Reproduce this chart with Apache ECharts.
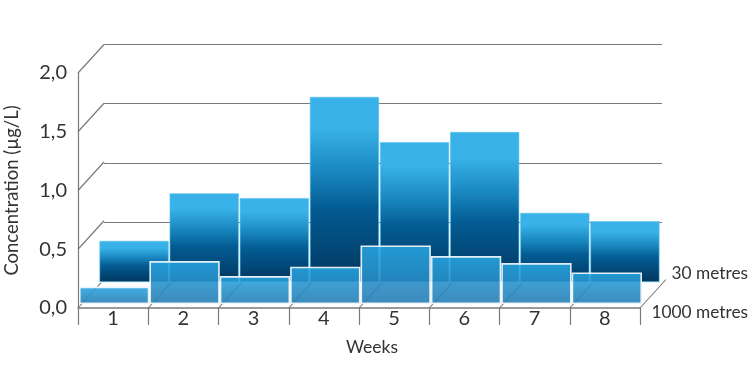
<!DOCTYPE html>
<html><head><meta charset="utf-8">
<style>html,body{margin:0;padding:0;background:#fff}#c{width:753px;height:380px}</style>
<script src="https://cdn.jsdelivr.net/npm/echarts@6/dist/echarts.min.js"></script></head>
<body><div id="c"></div>
<script>
const categories = ['1','2','3','4','5','6','7','8'];
const metres30 = [0.345,0.745,0.705,1.555,1.175,1.26,0.58,0.51];
const metres1000 = [0.148,0.365,0.238,0.318,0.498,0.408,0.348,0.268];
const wallTicks = [0.5,1.0,1.5,2.0];
const seriesNames = ['30 metres','1000 metres'];
const FONT = 'Lato';
const TXT = '#333';
const LINE = '#7a7a7a';
const DX = 26, DY = -28.5;

function grad(stops){
  return {type:'linear',x:0,y:0,x2:0,y2:1,colorStops:stops.map(s=>({offset:s[0],color:s[1]}))};
}
const chart = echarts.init(document.getElementById('c'),null,{renderer:'canvas'});
chart.setOption({
  animation:false,
  backgroundColor:'#fff',
  textStyle:{fontFamily:FONT},
  grid:[
    {left:78,width:562,top:73,height:235,outerBoundsMode:'none'},
    {left:104,width:558,top:44,height:238,outerBoundsMode:'none'},
    {left:99,width:561,top:44,height:238,outerBoundsMode:'none'},
    {left:79,width:563,top:69,height:235,outerBoundsMode:'none'}
  ],
  xAxis:[
    {gridIndex:0,type:'category',data:categories,
     axisLine:{lineStyle:{color:LINE,width:1.5}},
     axisTick:{show:true,length:17,lineStyle:{color:LINE,width:1.2}},
     axisLabel:{fontSize:20,color:TXT,margin:1,fontFamily:FONT},
     name:'Weeks',nameLocation:'middle',nameGap:30,
     nameTextStyle:{fontSize:17.5,color:TXT,fontFamily:FONT,padding:[0,0,0,26]}},
    {gridIndex:1,type:'category',data:categories,show:false},
    {gridIndex:2,type:'category',data:categories,show:false},
    {gridIndex:3,type:'category',data:categories,show:false}
  ],
  yAxis:[
    {gridIndex:0,type:'value',min:0,max:2,interval:0.5,
     axisLine:{show:true,lineStyle:{color:LINE,width:1.2}},axisTick:{show:false},
     splitLine:{show:false},
     axisLabel:{fontSize:20,color:TXT,margin:11,fontFamily:FONT,formatter:v=>v.toFixed(1).replace('.',',')},
     name:'Concentration (µg/L)',nameLocation:'middle',nameGap:56,
     nameTextStyle:{fontSize:18.5,color:TXT,fontFamily:FONT}},
    {gridIndex:1,type:'value',min:0,max:2,interval:0.5,
     axisLine:{show:false},axisTick:{show:false},axisLabel:{show:false},
     splitLine:{show:true,showMinLine:false,lineStyle:{color:LINE,width:1.2}}},
    {gridIndex:2,type:'value',min:0,max:2,show:false,splitLine:{show:false}},
    {gridIndex:3,type:'value',min:0,max:2,show:false,splitLine:{show:false}}
  ],
  series:[
    {type:'custom',name:'wall diagonals',xAxisIndex:0,yAxisIndex:0,z:1,silent:true,
     encode:{x:0,y:1},
     data:wallTicks.map(v=>[categories[0],v]),
     renderItem:(p,api)=>{
       const c=api.coord([api.value(0),api.value(1)]), w=api.size([1,0])[0], x=c[0]-w/2;
       return {type:'line',shape:{x1:x,y1:c[1],x2:x+DX,y2:c[1]+DY},
               style:{stroke:LINE,lineWidth:1.2,fill:null}};
     }},
    {type:'bar',name:seriesNames[0],xAxisIndex:2,yAxisIndex:2,data:metres30,barCategoryGap:'1.5%',z:3,
     itemStyle:{color:grad([[0,'#38b2e8'],[0.17,'#38b2e8'],[0.4,'#1a88c0'],[0.6,'#035c93'],[1,'#01365f']]),
                borderColor:'#5cc3ee',borderWidth:0.6}},
    {type:'custom',name:'floor diagonals',xAxisIndex:0,yAxisIndex:0,z:4,silent:true,
     encode:{x:0},
     data:categories.map((c,i)=>[i]).concat([[8]]),
     renderItem:(p,api)=>{
       const i=api.value(0), base=api.coord([0,0]), w=api.size([1,0])[0];
       const x=base[0]-w/2+i*w, k=i===8?1:0.88;
       return {type:'line',shape:{x1:x,y1:base[1],x2:x+DX*k,y2:base[1]+DY*k},
               style:{stroke:LINE,lineWidth:1.1,fill:null}};
     }},
    {type:'bar',name:seriesNames[1],xAxisIndex:3,yAxisIndex:3,data:metres1000,barCategoryGap:'0%',z:5,
     itemStyle:{color:grad([[0,'rgba(38,165,225,0.88)'],[1,'rgba(40,125,180,0.9)']]),
                borderColor:'rgba(238,246,250,0.95)',borderWidth:1.6}}
  ],
  graphic:[
    {type:'text',right:5,top:265,z:10,style:{text:seriesNames[0],font:'17.3px '+FONT,fill:TXT}},
    {type:'text',right:5,top:304,z:10,style:{text:seriesNames[1],font:'17.3px '+FONT,fill:TXT}}
  ]
});
</script></body></html>
